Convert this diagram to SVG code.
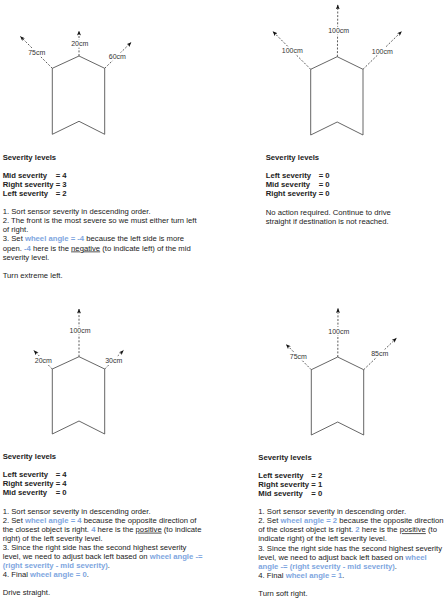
<svg xmlns="http://www.w3.org/2000/svg" width="447" height="599" viewBox="0 0 447 599">
<style>
text{font-family:"Liberation Sans",Arial,Helvetica,sans-serif;fill:#222}
.t{font-size:7.7px}
.b{font-weight:bold}
.u{text-decoration:underline}
.blue{fill:#7EA6E0;font-weight:bold}
.robot{fill:#fff;stroke:#555;stroke-width:0.9}
.ray{fill:none;stroke:#333;stroke-width:0.8;stroke-dasharray:2 1.6;marker-end:url(#ah)}
.lbl{font-size:7px;fill:#333;text-anchor:middle}
.lb{fill:#fff}
</style>
<defs>
<marker id="ah" viewBox="0 0 10 8" markerWidth="5" markerHeight="4" refX="9" refY="4" orient="auto" markerUnits="userSpaceOnUse">
<path d="M0,0 L10,4 L0,8 L2.5,4 z" fill="#111"/>
</marker>
</defs>
<rect width="447" height="599" fill="#fff"/>

<g id="robot1"><polygon class="robot" points="52.3,68.3 79,56 104.7,68.3 104.7,134.3 79,121.3 52.3,134.3"/></g>
<g id="robot2"><polygon class="robot" points="310.7,69.3 337.2,56.7 363,69.3 363,135 337.2,122 310.7,135"/></g>
<g id="robot3"><polygon class="robot" points="52.3,369 79,356.7 104.7,369 104.7,434 79,421 52.3,434"/></g>
<g id="robot4"><polygon class="robot" points="311.3,369.7 337.7,357 363.7,369.7 363.7,435 337.7,422 311.3,435"/></g>

<g id="connectors">
<path class="ray" d="M79,56 L79,31"/>
<path class="ray" d="M52.3,68.3 L20.5,36.5"/>
<path class="ray" d="M104.7,68.3 L131,42.5"/>
<path class="ray" d="M337.4,56.7 L337.8,5"/>
<path class="ray" d="M310.7,69.3 L273,31.6"/>
<path class="ray" d="M363,69.3 L401.5,31.5"/>
<path class="ray" d="M79,356.7 L79,309"/>
<path class="ray" d="M52.3,369 L34,350.7"/>
<path class="ray" d="M104.7,369 L123.3,350.5"/>
<path class="ray" d="M337.8,357 L338,308.5"/>
<path class="ray" d="M311.3,369.7 L286.3,344.5"/>
<path class="ray" d="M363.7,369.7 L396.3,338.3"/>
<g id="labels">
<rect class="lb" x="70.6" y="39.7" width="18.2" height="8"/><text class="lbl" x="79.7" y="46.2">20cm</text>
<rect class="lb" x="27.6" y="48.7" width="18.2" height="8"/><text class="lbl" x="36.7" y="55.2">75cm</text>
<rect class="lb" x="108.2" y="52.7" width="18.2" height="8"/><text class="lbl" x="117.3" y="59.2">60cm</text>
<rect class="lb" x="327.7" y="26.7" width="22" height="8"/><text class="lbl" x="338.7" y="33.2">100cm</text>
<rect class="lb" x="281.3" y="46.7" width="22" height="8"/><text class="lbl" x="292.3" y="53.2">100cm</text>
<rect class="lb" x="371.3" y="47" width="22" height="8"/><text class="lbl" x="382.3" y="53.5">100cm</text>
<rect class="lb" x="69" y="326.5" width="22" height="8"/><text class="lbl" x="80" y="333">100cm</text>
<rect class="lb" x="34.2" y="356" width="18.2" height="8"/><text class="lbl" x="43.3" y="362.5">20cm</text>
<rect class="lb" x="104.6" y="356.3" width="18.2" height="8"/><text class="lbl" x="113.7" y="362.8">30cm</text>
<rect class="lb" x="327.8" y="327" width="22" height="8"/><text class="lbl" x="338.8" y="333.5">100cm</text>
<rect class="lb" x="289.2" y="352.3" width="18.2" height="8"/><text class="lbl" x="298.3" y="358.8">75cm</text>
<rect class="lb" x="370.6" y="349.7" width="18.2" height="8"/><text class="lbl" x="379.7" y="356.2">85cm</text>
</g>
</g>

<g id="text1" class="t">
<text class="t b" x="2.7" y="159.5">Severity levels</text>
<text class="t b" x="2.7" y="177.7">Mid severity</text><text class="t b" x="55.7" y="177.7">= 4</text>
<text class="t b" x="2.7" y="186.8">Right severity</text><text class="t b" x="55.7" y="186.8">= 3</text>
<text class="t b" x="2.7" y="195.9">Left severity</text><text class="t b" x="55.7" y="195.9">= 2</text>
<text class="t" x="2.7" y="214.1">1. Sort sensor severity in descending order.</text>
<text class="t" x="2.7" y="223.2">2. The front is the most severe so we must either turn left</text>
<text class="t" x="2.7" y="232.3">of right.</text>
<text class="t" x="2.7" y="241.4">3. Set <tspan class="blue">wheel angle = -4</tspan> because the left side is more</text>
<text class="t" x="2.7" y="250.5">open. <tspan class="blue">-4</tspan> here is the <tspan class="u">negative</tspan> (to indicate left) of the mid</text>
<text class="t" x="2.7" y="259.6">severity level.</text>
<text class="t" x="2.7" y="277.8">Turn extreme left.</text>
</g>

<g id="text2">
<text class="t b" x="265.7" y="160">Severity levels</text>
<text class="t b" x="265.7" y="178.2">Left severity</text><text class="t b" x="318.7" y="178.2">= 0</text>
<text class="t b" x="265.7" y="187.3">Mid severity</text><text class="t b" x="318.7" y="187.3">= 0</text>
<text class="t b" x="265.7" y="196.4">Right severity</text><text class="t b" x="318.7" y="196.4">= 0</text>
<text class="t" x="265.7" y="214.6">No action required. Continue to drive</text>
<text class="t" x="265.7" y="223.7">straight if destination is not reached.</text>
</g>

<g id="text3">
<text class="t b" x="2.7" y="458.9">Severity levels</text>
<text class="t b" x="2.7" y="477.1">Left severity</text><text class="t b" x="55.7" y="477.1">= 4</text>
<text class="t b" x="2.7" y="486.2">Right severity</text><text class="t b" x="55.7" y="486.2">= 4</text>
<text class="t b" x="2.7" y="495.3">Mid severity</text><text class="t b" x="55.7" y="495.3">= 0</text>
<text class="t" x="2.7" y="513.5">1. Sort sensor severity in descending order.</text>
<text class="t" x="2.7" y="522.6">2. Set <tspan class="blue">wheel angle = 4</tspan> because the opposite direction of</text>
<text class="t" x="2.7" y="531.7">the closest object is right. <tspan class="blue">4</tspan> here is the <tspan class="u">positive</tspan> (to indicate</text>
<text class="t" x="2.7" y="540.8">right) of the left severity level.</text>
<text class="t" x="2.7" y="549.9">3. Since the right side has the second highest severity</text>
<text class="t" x="2.7" y="559">level, we need to adjust back left based on <tspan class="blue">wheel angle -=</tspan></text>
<text class="t" x="2.7" y="568.1"><tspan class="blue">(right severity - mid severity)</tspan>.</text>
<text class="t" x="2.7" y="577.2">4. Final <tspan class="blue">wheel angle = 0</tspan>.</text>
<text class="t" x="2.7" y="595.4">Drive straight.</text>
</g>

<g id="text4">
<text class="t b" x="258.3" y="459.5">Severity levels</text>
<text class="t b" x="258.3" y="477.7">Left severity</text><text class="t b" x="311.3" y="477.7">= 2</text>
<text class="t b" x="258.3" y="486.8">Right severity</text><text class="t b" x="311.3" y="486.8">= 1</text>
<text class="t b" x="258.3" y="495.9">Mid severity</text><text class="t b" x="311.3" y="495.9">= 0</text>
<text class="t" x="258.3" y="514.1">1. Sort sensor severity in descending order.</text>
<text class="t" x="258.3" y="523.2">2. Set <tspan class="blue">wheel angle = 2</tspan> because the opposite direction</text>
<text class="t" x="258.3" y="532.3">of the closest object is right. <tspan class="blue">2</tspan> here is the <tspan class="u">positive</tspan> (to</text>
<text class="t" x="258.3" y="541.4">indicate right) of the left severity level.</text>
<text class="t" x="258.3" y="550.5">3. Since the right side has the second highest severity</text>
<text class="t" x="258.3" y="559.6">level, we need to adjust back left based on <tspan class="blue">wheel</tspan></text>
<text class="t" x="258.3" y="568.7"><tspan class="blue">angle -= (right severity - mid severity)</tspan>.</text>
<text class="t" x="258.3" y="577.8">4. Final <tspan class="blue">wheel angle = 1</tspan>.</text>
<text class="t" x="258.3" y="596">Turn soft right.</text>
</g>
</svg>
